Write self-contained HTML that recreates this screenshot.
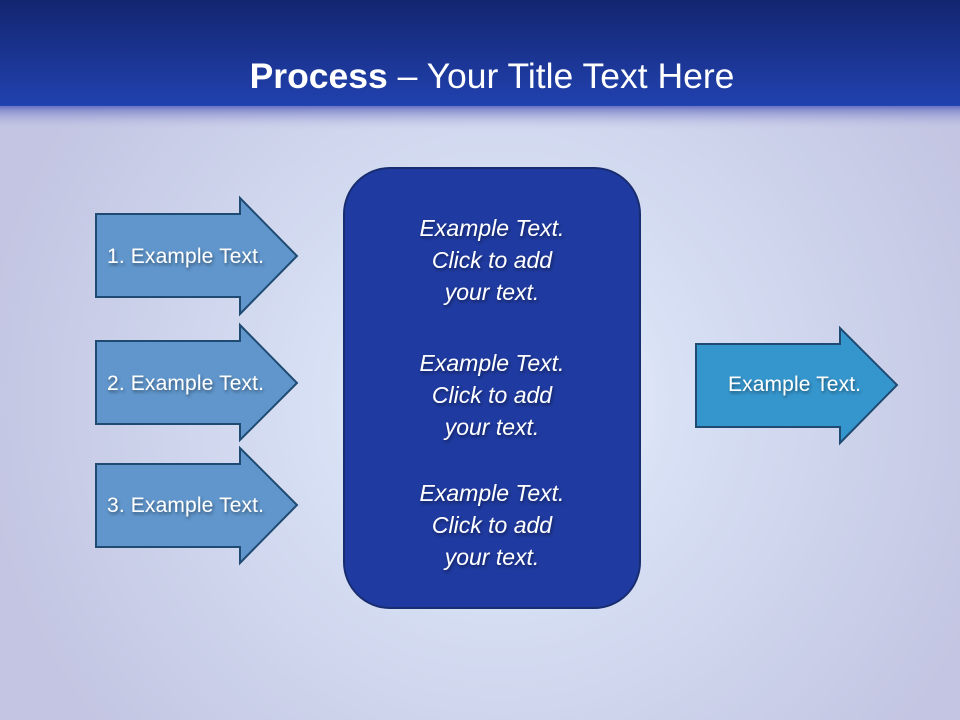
<!DOCTYPE html>
<html><head><meta charset="utf-8"><style>
html,body{margin:0;padding:0;width:960px;height:720px;overflow:hidden}
svg{display:block}
text{font-family:"Liberation Sans",sans-serif;fill:#fff}
</style></head><body>
<svg width="960" height="720" viewBox="0 0 960 720">
<defs>
<linearGradient id="hdr" x1="0" y1="0" x2="0" y2="1">
<stop offset="0" stop-color="#132570"/><stop offset="1" stop-color="#2142b0"/>
</linearGradient>
<linearGradient id="fade" x1="0" y1="0" x2="0" y2="1">
<stop offset="0" stop-color="#7078c6"/><stop offset="1" stop-color="#c6c9e4" stop-opacity="0"/>
</linearGradient>
<radialGradient id="glow" cx="500" cy="400" r="520" gradientUnits="userSpaceOnUse">
<stop offset="0" stop-color="#f2f6fd"/><stop offset="0.35" stop-color="#d7e0f4"/><stop offset="1" stop-color="#c3c5e2"/>
</radialGradient>
<filter id="sh"><feDropShadow dx="1" dy="2" stdDeviation="1.5" flood-color="#000" flood-opacity="0.45"/></filter>
</defs>
<rect width="960" height="720" fill="url(#glow)"/>
<rect width="960" height="108" fill="url(#hdr)"/>
<rect y="106" width="960" height="24" fill="url(#fade)"/>
<text x="492" y="88" font-size="35.5" text-anchor="middle"><tspan font-weight="bold">Process</tspan> – Your Title Text Here</text>

<g stroke="#1f4a72" stroke-width="2" fill="#6096cc">
<polygon points="96,214 240,214 240,198 297,256 240,314 240,297 96,297"/>
<polygon points="96,341 240,341 240,325 297,383 240,440 240,424 96,424"/>
<polygon points="96,464 240,464 240,448 297,505 240,563 240,547 96,547"/>
<polygon fill="#3596cd" points="696,344 840,344 840,328 897,385 840,443 840,427 696,427"/>
</g>
<g font-size="21" filter="url(#sh)">
<text x="107" y="263" textLength="157">1. Example Text.</text>
<text x="107" y="390" textLength="157">2. Example Text.</text>
<text x="107" y="512" textLength="157">3. Example Text.</text>
<text x="728" y="391" textLength="133">Example Text.</text>
</g>

<rect x="344" y="168" width="296" height="440" rx="46" fill="#1f3aa0" stroke="#182d70" stroke-width="2"/>
<g font-size="23" font-style="italic" text-anchor="middle" filter="url(#sh)">
<text x="492" y="236">Example Text.</text>
<text x="492" y="268">Click  to add</text>
<text x="492" y="300">your text.</text>
<text x="492" y="371">Example Text.</text>
<text x="492" y="403">Click  to add</text>
<text x="492" y="435">your text.</text>
<text x="492" y="501">Example Text.</text>
<text x="492" y="533">Click  to add</text>
<text x="492" y="565">your text.</text>
</g>
</svg>
</body></html>
